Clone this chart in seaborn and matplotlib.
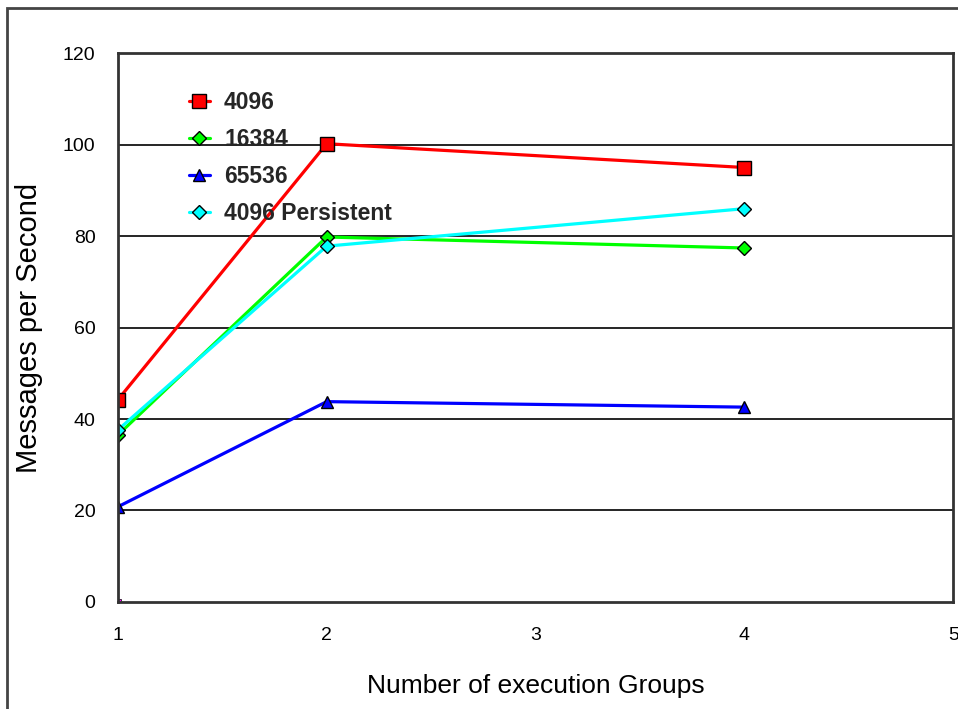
import matplotlib
matplotlib.use("Agg")
import matplotlib.pyplot as plt
import seaborn as sns
import pandas as pd
from matplotlib.patches import Rectangle

groups = [1, 2, 4]
s4096 = [44.2, 100.2, 95.0]
s16384 = [36.5, 79.8, 77.4]
s65536 = [20.8, 43.8, 42.6]
s4096p = [37.6, 77.8, 86.0]
extra_x = [1]
extra_y = [0]
series_names = ["4096", "16384", "65536", "4096 Persistent"]
yticks = [0, 20, 40, 60, 80, 100, 120]
xticks = [1, 2, 3, 4, 5]

sns.set_style("white")
plt.rcParams['font.family'] = ['Liberation Sans', 'DejaVu Sans']

fig = plt.figure(figsize=(9.58, 7.09), dpi=100)
ax = fig.add_axes([0.123, 0.151, 0.872, 0.774])

styles = [
    (s4096, "#ff0000", "s", 10),
    (s16384, "#00ff00", "D", 7),
    (s65536, "#0000ff", "^", 9),
    (s4096p, "#00ffff", "D", 7),
]
for (vals, col, mk, ms), name in zip(styles, series_names):
    df = pd.DataFrame({"x": groups, "y": vals})
    sns.lineplot(data=df, x="x", y="y", ax=ax, color=col, marker=mk,
                 markersize=ms, markeredgecolor="black", markeredgewidth=1,
                 linewidth=2.3, label=name)

sns.lineplot(x=extra_x, y=extra_y, ax=ax, color="#ff00ff", marker="s",
             markersize=5, markeredgecolor="black", markeredgewidth=0.5,
             linewidth=0, label="_nolegend_")

ax.set_xlim(1, 5)
ax.set_ylim(0, 120)
ax.set_xticks(xticks)
ax.set_yticks(yticks)
ax.set_xticklabels([str(t) for t in xticks], fontsize=14)
ax.set_yticklabels([str(t) for t in yticks], fontsize=14)
ax.tick_params(axis="both", length=0, colors="black")
ax.tick_params(axis="x", pad=18)
ax.tick_params(axis="y", pad=16)
for y in yticks[1:-1]:
    ax.axhline(y, color="black", linewidth=1.2, zorder=0.5)
for sp in ax.spines.values():
    sp.set_color("#333333")
    sp.set_linewidth(2)
    sp.set_visible(True)

ax.set_xlabel("Number of execution Groups", fontsize=19, color="black")
ax.set_ylabel("Messages per Second", fontsize=21, color="black")
ax.xaxis.set_label_coords(0.5, -0.131)
ax.yaxis.set_label_coords(-0.089, 0.5)

leg = ax.legend(loc="upper left", bbox_to_anchor=(0.060, 0.968), frameon=False,
                prop={"weight": "bold", "size": 16.5}, handlelength=0.95,
                handletextpad=0.6, labelspacing=0.6)

fig.patches.append(Rectangle((7 / 958, -0.2), 1.5, 1.2 - 8 / 709,
                             transform=fig.transFigure, fill=False,
                             edgecolor="#444444", linewidth=2))

fig.savefig("out.png", dpi=100)
